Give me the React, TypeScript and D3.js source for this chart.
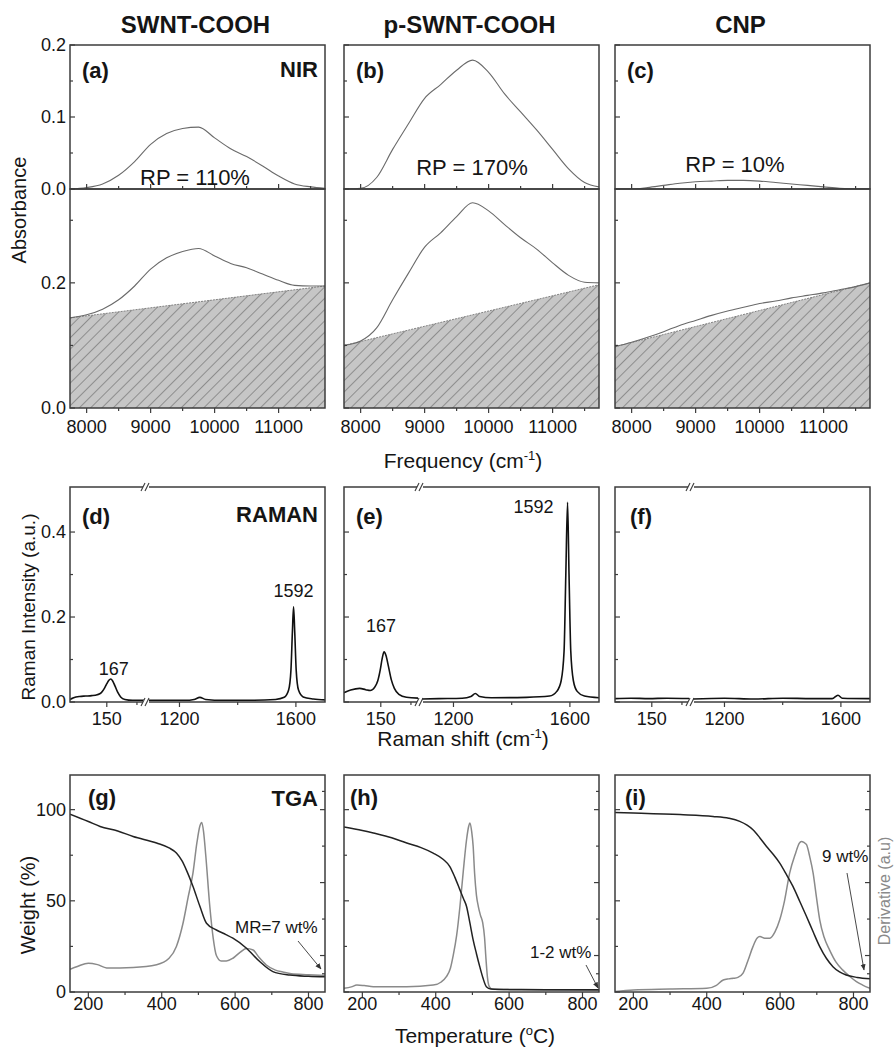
import React, { useEffect } from 'react';
import * as d3 from 'd3';

const FONT = "'Liberation Sans', Arial, Helvetica, sans-serif";

// ---------------- headers / labels ----------------
const sampleNames = ['SWNT-COOH', 'p-SWNT-COOH', 'CNP'];
const nirLetters = ['(a)', '(b)', '(c)'];
const ramanLetters = ['(d)', '(e)', '(f)'];
const tgaLetters = ['(g)', '(h)', '(i)'];
const rpLabels = ['RP = 110%', 'RP = 170%', 'RP = 10%'];

// ---------------- NIR data ----------------
const nirFreq = [7740, 8000, 8250, 8500, 8750, 9000, 9250, 9500, 9750, 10000, 10250, 10500, 10750, 11000, 11250, 11500, 11725];
const nirDiffA = [0.0, 0.002, 0.007, 0.019, 0.038, 0.062, 0.077, 0.084, 0.086, 0.071, 0.056, 0.045, 0.032, 0.018, 0.007, 0.003, 0.001];
const nirDiffB = [0.0, 0.001, 0.016, 0.055, 0.091, 0.126, 0.145, 0.165, 0.179, 0.162, 0.132, 0.107, 0.082, 0.055, 0.028, 0.009, 0.003];
const nirDiffC = [0.0, 0.0, 0.002, 0.005, 0.008, 0.010, 0.011, 0.012, 0.012, 0.011, 0.009, 0.007, 0.005, 0.003, 0.001, 0.0, 0.0];
const nirRawA = [0.144, 0.149, 0.158, 0.173, 0.195, 0.222, 0.240, 0.250, 0.255, 0.243, 0.231, 0.224, 0.214, 0.204, 0.196, 0.195, 0.195];
const nirRawB = [0.100, 0.107, 0.128, 0.173, 0.216, 0.257, 0.280, 0.306, 0.328, 0.315, 0.293, 0.272, 0.254, 0.232, 0.212, 0.201, 0.200];
const nirRawC = [0.098, 0.105, 0.113, 0.122, 0.132, 0.140, 0.148, 0.155, 0.161, 0.167, 0.171, 0.176, 0.180, 0.184, 0.189, 0.194, 0.200];
const nirBaseA = [0.144, 0.195];
const nirBaseB = [0.100, 0.197];
const nirBaseC = [0.098, 0.200];
const nirXMajor = [8000, 9000, 10000, 11000];
const nirXMinor = [8500, 9500, 10500, 11500];
const nirTopYMajor = [0, 0.1, 0.2];
const nirTopYMinor = [0.05, 0.15];
const nirBotYMajor = [0, 0.2];
const nirBotYMinor = [0.1, 0.3];

// ---------------- Raman data ----------------
const ramanLowD: [number, number][] = [[28, 0.006], [40, 0.010], [60, 0.013], [80, 0.014], [100, 0.015], [118, 0.017], [132, 0.022], [142, 0.032], [150, 0.043], [157, 0.051], [163, 0.054], [169, 0.050], [177, 0.038], [186, 0.023], [196, 0.012], [210, 0.006], [235, 0.004], [280, 0.004]];
const ramanHighD: [number, number][] = [[1085, 0.004], [1150, 0.004], [1220, 0.004], [1250, 0.006], [1270, 0.011], [1290, 0.006], [1350, 0.004], [1450, 0.004], [1530, 0.006], [1560, 0.011], [1575, 0.028], [1583, 0.075], [1588, 0.165], [1592, 0.224], [1596, 0.165], [1601, 0.075], [1609, 0.028], [1625, 0.012], [1660, 0.007], [1700, 0.005]];
const ramanLowE: [number, number][] = [[28, 0.022], [50, 0.028], [80, 0.032], [100, 0.029], [115, 0.027], [130, 0.035], [140, 0.050], [148, 0.075], [155, 0.104], [161, 0.118], [167, 0.110], [175, 0.085], [185, 0.052], [195, 0.032], [210, 0.018], [235, 0.011], [280, 0.009]];
const ramanHighE: [number, number][] = [[1085, 0.007], [1150, 0.008], [1230, 0.009], [1260, 0.013], [1275, 0.020], [1290, 0.013], [1330, 0.010], [1450, 0.011], [1530, 0.014], [1555, 0.025], [1570, 0.050], [1580, 0.120], [1586, 0.300], [1592, 0.470], [1597, 0.300], [1603, 0.120], [1612, 0.050], [1625, 0.025], [1650, 0.014], [1700, 0.010]];
const ramanLowF: [number, number][] = [[28, 0.008], [80, 0.009], [140, 0.008], [200, 0.009], [280, 0.008]];
const ramanHighF: [number, number][] = [[1085, 0.007], [1200, 0.009], [1300, 0.007], [1400, 0.009], [1500, 0.008], [1570, 0.008], [1590, 0.016], [1605, 0.009], [1700, 0.008]];
const ramanLowMajor = [150];
const ramanLowMinor = [250];
const ramanHighMajor = [1200, 1600];
const ramanHighMinor = [1400];
const ramanYMajor = [0, 0.2, 0.4];
const ramanYMinor = [0.1, 0.3];

// ---------------- TGA data ----------------
const tgaWeightG: [number, number][] = [[150, 97.5], [200, 93.5], [232, 90.8], [280, 88.3], [322, 85.3], [386, 81.7], [420, 79.0], [440, 76.2], [455, 72.0], [467, 67.0], [485, 58.0], [504, 47.0], [522, 37.7], [549, 34.0], [575, 31.5], [594, 29.5], [631, 24.0], [667, 16.7], [703, 11.2], [749, 9.3], [800, 8.6], [845, 8.3]];
const tgaDerivG: [number, number][] = [[150, 12.5], [170, 14.0], [200, 15.8], [225, 15.0], [250, 13.2], [322, 13.5], [386, 15.0], [420, 18.5], [440, 25.0], [458, 37.7], [472, 52.0], [485, 65.0], [496, 82.0], [504, 91.0], [509, 93.0], [514, 88.0], [520, 75.0], [531, 47.0], [540, 30.0], [549, 20.0], [562, 17.0], [576, 17.0], [594, 18.5], [615, 22.0], [631, 23.8], [649, 23.0], [665, 19.0], [685, 14.8], [710, 12.0], [730, 11.0], [753, 10.0], [800, 9.5], [845, 9.0]];
const tgaWeightH: [number, number][] = [[150, 90.5], [200, 88.6], [230, 87.2], [280, 84.6], [321, 81.7], [360, 79.2], [393, 76.2], [420, 72.8], [438, 68.9], [452, 63.0], [466, 56.0], [476, 51.0], [484, 46.9], [493, 38.0], [502, 28.6], [511, 21.0], [520, 13.9], [529, 7.5], [538, 2.9], [550, 1.7], [600, 1.4], [700, 1.3], [845, 1.2]];
const tgaDerivH: [number, number][] = [[150, 2.0], [170, 2.8], [185, 3.8], [205, 3.5], [230, 2.9], [321, 2.9], [393, 3.8], [415, 5.5], [429, 8.4], [440, 13.0], [447, 19.4], [457, 31.0], [466, 46.9], [475, 66.0], [484, 83.5], [490, 91.0], [493, 92.7], [498, 88.0], [502, 80.0], [506, 65.0], [511, 53.0], [516, 47.0], [522, 42.0], [528, 38.0], [533, 30.0], [537, 18.0], [541, 8.0], [546, 3.0], [555, 1.5], [600, 1.3], [845, 1.0]];
const tgaWeightI: [number, number][] = [[150, 98.5], [200, 98.2], [327, 97.3], [417, 96.3], [460, 95.3], [490, 93.6], [510, 91.5], [526, 89.0], [545, 84.5], [563, 79.8], [581, 75.5], [599, 70.7], [617, 64.5], [635, 57.9], [654, 49.5], [672, 41.4], [690, 33.0], [708, 24.9], [726, 18.5], [744, 13.9], [762, 11.0], [780, 9.3], [810, 8.0], [845, 7.3]];
const tgaDerivI: [number, number][] = [[150, 0.3], [200, 1.1], [300, 1.6], [400, 2.0], [425, 3.5], [445, 6.6], [460, 7.2], [472, 7.5], [485, 8.0], [499, 10.3], [512, 17.0], [526, 24.9], [537, 29.5], [545, 30.4], [558, 29.5], [572, 29.5], [586, 33.0], [599, 39.6], [612, 50.0], [626, 65.2], [642, 76.0], [652, 81.5], [658, 82.6], [665, 82.0], [672, 80.8], [681, 74.0], [690, 65.2], [699, 52.0], [708, 39.6], [720, 30.0], [735, 23.0], [752, 16.5], [771, 12.0], [790, 8.5], [808, 5.7], [825, 3.8], [845, 2.0]];
const tgaXMajor = [200, 400, 600, 800];
const tgaXMinor = [300, 500, 700];
const tgaYMajor = [0, 50, 100];
const tgaYMinor = [25, 75];
const derivTicks = [10, 20, 40, 60, 80, 100, 110];
const tgaNotes = ['MR=7 wt%', '1-2 wt%', '9 wt%'];

// ---------------- layout ----------------
const COL_LEFT = [70, 344, 615];
const COL_W = 255;
const NIR_TOP = 45, NIR_MID = 189, NIR_BOT = 408;
const RA_TOP = 487, RA_BOT = 702;
const TG_TOP = 775, TG_BOT = 992;
const BREAK_OFF = 76;

const AX = '#3c3c3c';
const TXT = '#151515';

export default function App() {
  useEffect(() => {
    document.body.style.margin = '0';
  }, []);

  const els: React.ReactNode[] = [];
  let k = 0;
  const key = () => `e${k++}`;

  const frame = (x: number, y: number, w: number, h: number) =>
    els.push(<rect key={key()} x={x} y={y} width={w} height={h} fill="none" stroke={AX} strokeWidth={1.5} />);

  const vtick = (x: number, y: number, len: number) =>
    els.push(<line key={key()} x1={x} x2={x} y1={y} y2={y + len} stroke={AX} strokeWidth={1.2} />);
  const htick = (x: number, y: number, len: number) =>
    els.push(<line key={key()} x1={x} x2={x + len} y1={y} y2={y} stroke={AX} strokeWidth={1.2} />);

  const label = (x: number, y: number, t: string, size: number, opts: any = {}) =>
    els.push(
      <text key={key()} x={x} y={y} fontSize={size} fill={opts.fill || TXT} fontWeight={opts.bold ? 'bold' : 'normal'}
        textAnchor={opts.anchor || 'start'} fontFamily={FONT}>{t}</text>
    );

  const lineGen = (xs: (v: number) => number, ys: (v: number) => number) =>
    d3.line<[number, number]>().x((d) => xs(d[0])).y((d) => ys(d[1])).curve(d3.curveMonotoneX);

  // ---------------- headers ----------------
  sampleNames.forEach((n, i) => {
    label(COL_LEFT[i] + COL_W / 2 - 2, 33, n, 24, { bold: true, anchor: 'middle' });
  });

  // ---------------- NIR ----------------
  const diffs = [nirDiffA, nirDiffB, nirDiffC];
  const raws = [nirRawA, nirRawB, nirRawC];
  const bases = [nirBaseA, nirBaseB, nirBaseC];
  COL_LEFT.forEach((L, i) => {
    const x = d3.scaleLinear().domain([7740, 11725]).range([L, L + COL_W]);
    const yT = d3.scaleLinear().domain([0, 0.2]).range([NIR_MID, NIR_TOP]);
    const yB = d3.scaleLinear().domain([0, 0.35]).range([NIR_BOT, NIR_MID]);
    const clipT = `clipNT${i}`, clipB = `clipNB${i}`;
    els.push(
      <defs key={key()}>
        <clipPath id={clipT}><rect x={L} y={NIR_TOP} width={COL_W} height={NIR_MID - NIR_TOP} /></clipPath>
        <clipPath id={clipB}><rect x={L} y={NIR_MID} width={COL_W} height={NIR_BOT - NIR_MID} /></clipPath>
      </defs>
    );
    const base = bases[i];
    const bpts: [number, number][] = [[nirFreq[0], base[0]], [nirFreq[nirFreq.length - 1], base[1]]];
    const area = d3.area<[number, number]>().x((d) => x(d[0])).y0(yB(0)).y1((d) => yB(d[1]));
    els.push(<path key={key()} d={area(bpts) || ''} fill="#c6c6c6" clipPath={`url(#${clipB})`} />);
    els.push(<path key={key()} d={area(bpts) || ''} fill="url(#hatch)" clipPath={`url(#${clipB})`} />);
    const bl = d3.line<[number, number]>().x((d) => x(d[0])).y((d) => yB(d[1]));
    els.push(<path key={key()} d={bl(bpts) || ''} fill="none" stroke="#777" strokeWidth={0.9} strokeDasharray="2,1" />);

    const dpts = nirFreq.map((f, j) => [f, diffs[i][j]] as [number, number]);
    const rpts = nirFreq.map((f, j) => [f, raws[i][j]] as [number, number]);
    els.push(<path key={key()} d={lineGen(x, yT)(dpts) || ''} fill="none" stroke="#6a6a6a" strokeWidth={1.1} clipPath={`url(#${clipT})`} />);
    els.push(<path key={key()} d={lineGen(x, yB)(rpts) || ''} fill="none" stroke="#6a6a6a" strokeWidth={1.1} clipPath={`url(#${clipB})`} />);

    frame(L, NIR_TOP, COL_W, NIR_MID - NIR_TOP);
    frame(L, NIR_MID, COL_W, NIR_BOT - NIR_MID);
    nirXMajor.forEach((v) => { vtick(x(v), NIR_MID, -5); vtick(x(v), NIR_BOT, 5); });
    nirXMinor.forEach((v) => { vtick(x(v), NIR_MID, -3); vtick(x(v), NIR_BOT, 3); });
    nirTopYMajor.forEach((v) => htick(L, yT(v), 5));
    nirTopYMinor.forEach((v) => htick(L, yT(v), 3));
    nirBotYMajor.forEach((v) => htick(L, yB(v), 5));
    nirBotYMinor.forEach((v) => htick(L, yB(v), 3));
    nirXMajor.forEach((v) => label(x(v), 433, String(v), 18, { anchor: 'middle' }));
    if (i === 0) {
      nirTopYMajor.forEach((v) => label(L - 4, yT(v) + 6, v.toFixed(1), 18, { anchor: 'end' }));
      nirBotYMajor.forEach((v) => label(L - 4, yB(v) + 6, v.toFixed(1), 18, { anchor: 'end' }));
      label(L + COL_W - 7, 77, 'NIR', 22, { bold: true, anchor: 'end' });
    }
    label(L + 12, 78, nirLetters[i], 22, { bold: true });
    const rpX = [195, 472, 735][i];
    const rpY = [185, 175, 172][i];
    label(rpX, rpY, rpLabels[i], 22, { anchor: 'middle' });
  });

  // ---------------- Raman ----------------
  const lows = [ramanLowD, ramanLowE, ramanLowF];
  const highs = [ramanHighD, ramanHighE, ramanHighF];
  COL_LEFT.forEach((L, i) => {
    const xb = L + BREAK_OFF;
    const xl = d3.scaleLinear().domain([28, 280]).range([L, xb]);
    const xh = d3.scaleLinear().domain([1085, 1700]).range([xb, L + COL_W]);
    const y = d3.scaleLinear().domain([0, 0.506]).range([RA_BOT, RA_TOP]);
    const cl = `clipRL${i}`, ch = `clipRH${i}`;
    els.push(
      <defs key={key()}>
        <clipPath id={cl}><rect x={L} y={RA_TOP} width={BREAK_OFF - 2} height={RA_BOT - RA_TOP} /></clipPath>
        <clipPath id={ch}><rect x={xb + 2} y={RA_TOP} width={L + COL_W - xb - 2} height={RA_BOT - RA_TOP} /></clipPath>
      </defs>
    );
    els.push(<path key={key()} d={lineGen(xl, y)(lows[i]) || ''} fill="none" stroke="#111" strokeWidth={1.6} clipPath={`url(#${cl})`} />);
    els.push(<path key={key()} d={lineGen(xh, y)(highs[i]) || ''} fill="none" stroke="#111" strokeWidth={1.6} clipPath={`url(#${ch})`} />);
    frame(L, RA_TOP, COL_W, RA_BOT - RA_TOP);
    [RA_TOP, RA_BOT].forEach((yy) => {
      els.push(<rect key={key()} x={xb - 3} y={yy - 2} width={6} height={4} fill="#fff" />);
      els.push(<line key={key()} x1={xb - 5} y1={yy + 4} x2={xb - 1} y2={yy - 4} stroke={AX} strokeWidth={1.1} />);
      els.push(<line key={key()} x1={xb - 1} y1={yy + 4} x2={xb + 3} y2={yy - 4} stroke={AX} strokeWidth={1.1} />);
    });
    ramanLowMajor.forEach((v) => vtick(xl(v), RA_BOT, 5));
    ramanLowMinor.forEach((v) => vtick(xl(v), RA_BOT, 3));
    ramanHighMajor.forEach((v) => vtick(xh(v), RA_BOT, 5));
    ramanHighMinor.forEach((v) => vtick(xh(v), RA_BOT, 3));
    ramanYMajor.forEach((v) => htick(L, y(v), 5));
    ramanYMinor.forEach((v) => htick(L, y(v), 3));
    ramanLowMajor.forEach((v) => label(xl(v), 725, String(v), 18, { anchor: 'middle' }));
    ramanHighMajor.forEach((v) => label(xh(v), 725, String(v), 18, { anchor: 'middle' }));
    if (i === 0) {
      ramanYMajor.forEach((v) => label(L - 4, y(v) + 6, v.toFixed(1), 18, { anchor: 'end' }));
      label(L + COL_W - 7, 522, 'RAMAN', 22, { bold: true, anchor: 'end' });
      label(xl(163) + 3, 675, '167', 18, { anchor: 'middle' });
      label(xh(1592), 597, '1592', 18, { anchor: 'middle' });
    }
    if (i === 1) {
      label(xl(161) - 3, 632, '167', 18, { anchor: 'middle' });
      label(xh(1592) - 14, 513, '1592', 18, { anchor: 'end' });
    }
    label(L + 12 + (i === 2 ? 3 : 0), 524, ramanLetters[i], 22, { bold: true });
  });

  // ---------------- TGA ----------------
  const weights = [tgaWeightG, tgaWeightH, tgaWeightI];
  const derivs = [tgaDerivG, tgaDerivH, tgaDerivI];
  COL_LEFT.forEach((L, i) => {
    const x = d3.scaleLinear().domain([150, 845]).range([L, L + COL_W]);
    const y = d3.scaleLinear().domain([0, 119]).range([TG_BOT, TG_TOP]);
    const c = `clipTG${i}`;
    els.push(
      <defs key={key()}>
        <clipPath id={c}><rect x={L} y={TG_TOP} width={COL_W} height={TG_BOT - TG_TOP} /></clipPath>
      </defs>
    );
    els.push(<path key={key()} d={lineGen(x, y)(derivs[i]) || ''} fill="none" stroke="#8a8a8a" strokeWidth={1.5} clipPath={`url(#${c})`} />);
    els.push(<path key={key()} d={lineGen(x, y)(weights[i]) || ''} fill="none" stroke="#222" strokeWidth={1.5} clipPath={`url(#${c})`} />);
    frame(L, TG_TOP, COL_W, TG_BOT - TG_TOP);
    tgaXMajor.forEach((v) => vtick(x(v), TG_BOT, 5));
    tgaXMinor.forEach((v) => vtick(x(v), TG_BOT, 3));
    tgaYMajor.forEach((v) => htick(L, y(v), 5));
    tgaYMinor.forEach((v) => htick(L, y(v), 3));
    derivTicks.forEach((v, j) => htick(L + COL_W, y(v), j % 2 === 0 ? -3 : -5));
    tgaXMajor.forEach((v) => label(x(v), 1010, String(v), 18, { anchor: 'middle' }));
    if (i === 0) {
      tgaYMajor.forEach((v) => label(L - 4, y(v) + 6, String(v), 18, { anchor: 'end' }));
      label(L + COL_W - 7, 806, 'TGA', 22, { bold: true, anchor: 'end' });
    }
    label([88, 350, 625][i], 805, tgaLetters[i], 22, { bold: true });
  });

  label(235, 933, tgaNotes[0], 17);
  label(530, 958, tgaNotes[1], 17);
  label(822, 862, tgaNotes[2], 17);
  const arrows = [
    [298, 941, 321, 969],
    [586, 965, 598, 988],
    [847, 873, 864, 970],
  ];
  arrows.forEach((a) => {
    els.push(<line key={key()} x1={a[0]} y1={a[1]} x2={a[2]} y2={a[3]} stroke="#333" strokeWidth={0.9} markerEnd="url(#arrowHead)" />);
  });

  return (
    <svg width={894} height={1047} style={{ position: 'absolute', left: 0, top: 0, background: '#fff' }} fontFamily={FONT}>
      <defs>
        <pattern id="hatch" patternUnits="userSpaceOnUse" width={8} height={8} patternTransform="rotate(45)">
          <line x1={0} y1={0} x2={0} y2={8} stroke="#555" strokeWidth={1} />
        </pattern>
        <marker id="arrowHead" viewBox="0 0 10 10" refX={9} refY={5} markerWidth={7} markerHeight={7} orient="auto">
          <path d="M0,1 L10,5 L0,9 z" fill="#333" />
        </marker>
      </defs>
      <rect x={0} y={0} width={894} height={1047} fill="#fff" />
      {els}
      <text x={0} y={0} fontSize={20} fill={TXT} textAnchor="middle" transform="translate(26,210) rotate(-90)">Absorbance</text>
      <text x={0} y={0} fontSize={19} fill={TXT} textAnchor="middle" transform="translate(35,607) rotate(-90)">Raman Intensity (a.u.)</text>
      <text x={0} y={0} fontSize={20} fill={TXT} textAnchor="middle" transform="translate(35,905) rotate(-90)">Weight (%)</text>
      <text x={0} y={0} fontSize={16} fill="#8a8a8a" textAnchor="middle" transform="translate(890,891) rotate(-90)">Derivative (a.u)</text>
      <text x={463} y={468} fontSize={21} fill={TXT} textAnchor="middle">
        Frequency (cm<tspan dy={-8} fontSize={13}>-1</tspan><tspan dy={8}>)</tspan>
      </text>
      <text x={463} y={746} fontSize={21} fill={TXT} textAnchor="middle">
        Raman shift (cm<tspan dy={-8} fontSize={13}>-1</tspan><tspan dy={8}>)</tspan>
      </text>
      <text x={475} y={1043} fontSize={21} fill={TXT} textAnchor="middle">
        Temperature (<tspan dy={-8} fontSize={13}>o</tspan><tspan dy={8}>C)</tspan>
      </text>
    </svg>
  );
}
